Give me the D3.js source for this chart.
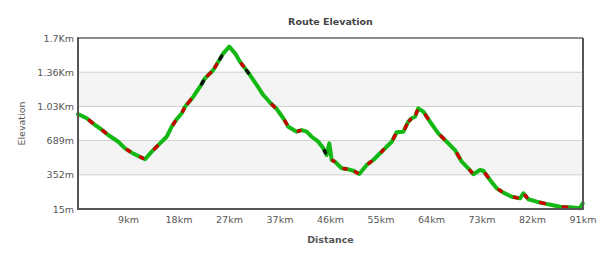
<!DOCTYPE html>
<html>
<head>
<meta charset="utf-8">
<script src="https://cdn.jsdelivr.net/npm/d3@7"></script>
<style>
  body { margin: 0; background: #fff; }
  text { font-family: "DejaVu Sans", Verdana, sans-serif; }
</style>
</head>
<body>
<div id="chart"></div>
<script>
// distance along the route (km) and elevation (m)
const distKm = [0, 1.57, 3.08, 3.98, 5.48, 7.29, 8.51, 9.72, 10.91, 12.13,
  13.34, 14.84, 16.05, 16.96, 17.86, 18.77, 19.37, 20.87, 22.08, 22.99,
  24.49, 25.39, 26.3, 27.38, 28.42, 29.32, 30.23, 31.13, 32.34, 33.54,
  34.75, 35.96, 37.16, 38.06, 39.58, 40.49, 41.39, 42.3, 43.49, 44.4,
  45.01, 45.48, 45.92, 46.52, 47.73, 48.92, 49.83, 50.91, 52.25, 53.45,
  54.66, 55.57, 56.78, 57.68, 58.88, 59.78, 60.4, 60.99, 61.59, 62.5,
  63.71, 65.21, 66.73, 68.23, 69.45, 70.64, 71.55, 72.76, 73.36, 74.57,
  75.78, 76.98, 78.5, 80.01, 80.61, 81.51, 83.03, 85.13, 87.24, 89.05,
  90.86, 91.35];
const elevM = [951, 909, 843, 810, 744, 678, 613, 570, 537, 505,
  580, 662, 727, 826, 900, 958, 1023, 1122, 1220, 1303,
  1385, 1466, 1549, 1615, 1549, 1466, 1401, 1335, 1237, 1138,
  1064, 1000, 909, 826, 777, 793, 777, 727, 678, 613,
  547, 662, 498, 481, 416, 406, 392, 360, 449, 498,
  564, 613, 678, 771, 777, 875, 909, 925, 1007, 974,
  875, 761, 678, 596, 481, 416, 357, 399, 392, 301,
  219, 176, 136, 120, 170, 111, 87, 61, 38, 32,
  22, 71];
// colour class of each stretch between two points (g green, r red, k black)
const segClass = "grgrggrgrgrggrgrrgkrrkgggrkgggrgrgrggggkggrgrgrgrgrgrgrrgrgrgrgrgrggrgrgrgrgrgrg";

const yTickVals = [15, 352, 689, 1026, 1363, 1700];
const yTickLabels = ["15m", "352m", "689m", "1.03Km", "1.36Km", "1.7Km"];
const xTickVals = [9.14, 18.28, 27.42, 36.56, 45.7, 54.84, 63.98, 73.12, 82.26, 91.4];
const xTickLabels = ["9km", "18km", "27km", "37km", "46km", "55km", "64km", "73km", "82km", "91km"];

const W = 600, H = 260;
const mLeft = 78, mRight = 583, mTop = 38, mBottom = 209;

const svg = d3.select("#chart").append("svg")
  .attr("width", W).attr("height", H);

const x = d3.scaleLinear().domain([0, 91.4]).range([mLeft, mRight]);
const y = d3.scaleLinear().domain([15, 1700]).range([mBottom, mTop]);

// alternating bands
svg.append("g")
  .selectAll("rect")
  .data(d3.range(yTickVals.length - 1))
  .join("rect")
  .attr("x", mLeft)
  .attr("width", mRight - mLeft)
  .attr("y", (i) => y(yTickVals[i + 1]))
  .attr("height", (i) => y(yTickVals[i]) - y(yTickVals[i + 1]))
  .attr("fill", (i) => (i % 2 === 1 ? "#f4f4f4" : "#fff"));

// grid lines
svg.append("g")
  .selectAll("line")
  .data(yTickVals.slice(1, -1))
  .join("line")
  .attr("x1", mLeft).attr("x2", mRight)
  .attr("y1", (d) => y(d)).attr("y2", (d) => y(d))
  .attr("stroke", "#cfcfcf").attr("stroke-width", 1);

// y labels
svg.append("g")
  .selectAll("text")
  .data(yTickVals)
  .join("text")
  .attr("x", mLeft - 4)
  .attr("y", (d) => y(d) + 3.5)
  .attr("text-anchor", "end")
  .attr("font-size", 9.5)
  .attr("fill", "#555")
  .text((d, i) => yTickLabels[i]);

// x labels
svg.append("g")
  .selectAll("text")
  .data(xTickVals)
  .join("text")
  .attr("x", (d) => x(d))
  .attr("y", mBottom + 14)
  .attr("text-anchor", "middle")
  .attr("font-size", 9.5)
  .attr("fill", "#555")
  .text((d, i) => xTickLabels[i]);

// elevation line: green base, coloured stretches on top
const pts = distKm.map((d, i) => [d, elevM[i]]);
const line = d3.line().x((d) => x(d[0])).y((d) => y(d[1]));

svg.append("path")
  .attr("d", line(pts))
  .attr("fill", "none")
  .attr("stroke", "#14b814")
  .attr("stroke-width", 4)
  .attr("stroke-linejoin", "round")
  .attr("stroke-linecap", "round");

const colorOf = { r: "#cc0000", k: "#111111" };
const segs = d3.range(pts.length - 1).filter((i) => segClass[i] !== "g");
svg.append("g")
  .selectAll("path")
  .data(segs)
  .join("path")
  .attr("d", (i) => {
    // colour only a short middle part of the stretch
    const a = pts[i], b = pts[i + 1];
    const p = [a[0] + (b[0] - a[0]) * 0.32, a[1] + (b[1] - a[1]) * 0.32];
    const q = [a[0] + (b[0] - a[0]) * 0.68, a[1] + (b[1] - a[1]) * 0.68];
    return line([p, q]);
  })
  .attr("fill", "none")
  .attr("stroke", (i) => colorOf[segClass[i]])
  .attr("stroke-width", 3.4)
  .attr("stroke-linecap", "round");

// frame
svg.append("line")
  .attr("x1", mLeft).attr("x2", mRight).attr("y1", mTop).attr("y2", mTop)
  .attr("stroke", "#666").attr("stroke-width", 1.5);
svg.append("line")
  .attr("x1", mRight).attr("x2", mRight).attr("y1", mTop).attr("y2", mBottom)
  .attr("stroke", "#555").attr("stroke-width", 2);
svg.append("line")
  .attr("x1", mLeft).attr("x2", mLeft).attr("y1", mTop - 0.75).attr("y2", mBottom + 1)
  .attr("stroke", "#555").attr("stroke-width", 2);
svg.append("line")
  .attr("x1", mLeft).attr("x2", mRight + 1).attr("y1", mBottom).attr("y2", mBottom)
  .attr("stroke", "#555").attr("stroke-width", 2);

// titles
svg.append("text")
  .attr("x", (mLeft + mRight) / 2).attr("y", 25)
  .attr("text-anchor", "middle")
  .attr("font-size", 9.5).attr("font-weight", "bold")
  .attr("fill", "#444")
  .text("Route Elevation");

svg.append("text")
  .attr("x", (mLeft + mRight) / 2).attr("y", 243)
  .attr("text-anchor", "middle")
  .attr("font-size", 9.5).attr("font-weight", "bold")
  .attr("fill", "#555")
  .text("Distance");

svg.append("text")
  .attr("transform", `translate(25,${(mTop + mBottom) / 2}) rotate(-90)`)
  .attr("text-anchor", "middle")
  .attr("font-size", 9.5)
  .attr("fill", "#555")
  .text("Elevation");
</script>
</body>
</html>
